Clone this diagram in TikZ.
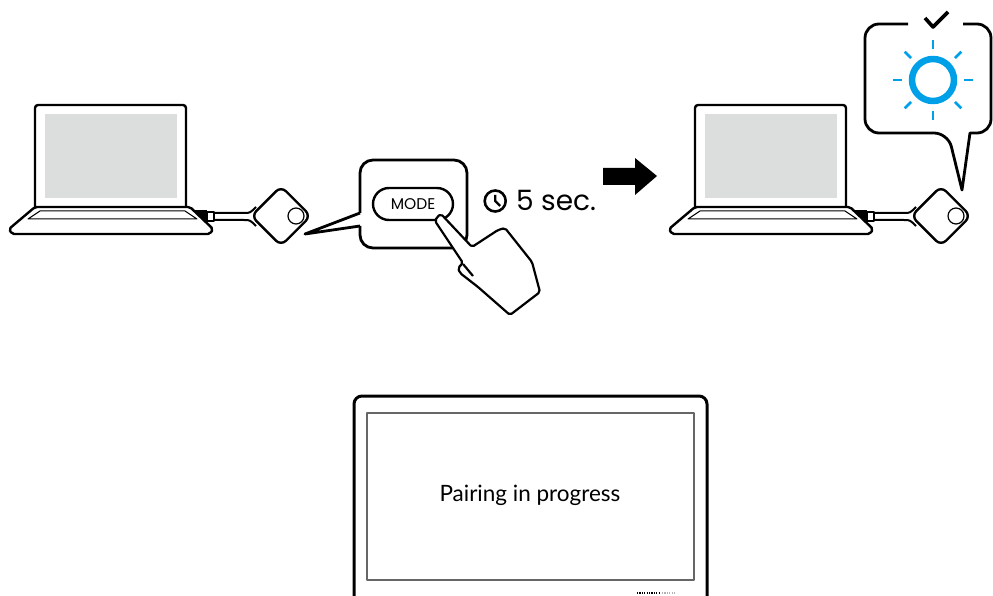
\documentclass[tikz,border=0pt]{standalone}
\usepackage{fontspec}
\setmainfont{Lato}
\newfontfamily\geofont{Poppins}
\usepackage{tikz}
\usetikzlibrary{positioning}
\usetikzlibrary{calc}
\definecolor{screengray}{HTML}{DCDDDD}
\definecolor{sunblue}{HTML}{00A0E9}

\begin{document}
\begin{tikzpicture}[x=1pt,y=-1pt,line join=round,
    outline/.style={line width=2.4pt},
    dongle/.style={draw,fill=white,line width=2.4pt,rotate=45,minimum size=42pt,
                   rounded corners=7pt,inner sep=0pt},
    button/.style={circle,draw,line width=1.2pt,minimum size=16pt,inner sep=0pt},
    ray/.style={sunblue,line width=2.6pt}]
\useasboundingbox (0,0) rectangle (993,596);

% the two laptops with their dongles
\foreach \dx/\nm in {0/a,660/b}{
  \begin{scope}[xshift=\dx]
    \fill[screengray] (45,114) rectangle (177,198);
    \draw[outline,rounded corners=3pt] (35,207) -- (35,105) -- (186,105) -- (186,207);
    % plug and cable
    \fill (192,210) rectangle (207,223);
    \draw[line width=1.6pt,fill=white] (207,212) rectangle (214,221);
    \draw[line width=2pt] (214,213) -- (244,213) .. controls (250,213) .. (256,207)
                          (214,220) -- (244,220) .. controls (250,220) .. (256,226);
    \node[dongle] (dongle\nm) at (281,216) {};
    \node[button] (button\nm) at (296,216) {};
    % base
    \draw[outline,fill=white,rounded corners=2pt] (35,207) -- (190,207) -- (213,229)
         -- (210,234) -- (12,234) -- (9,229) -- cycle;
    \draw[line width=1pt] (40,211) -- (185,211) -- (197,219) -- (28,219) -- cycle;
  \end{scope}
}

% callout with the MODE key
\draw[line width=2.8pt,rounded corners=13pt] (360,226) -- (360,248) -- (467,248)
     -- (467,160) -- (360,160) -- (360,213);
\draw[line width=2.8pt] (360,213) -- (305,234) -- (360,226);
\node[draw,line width=2.4pt,rounded corners=16pt,minimum width=80pt,minimum height=32pt,
      font=\geofont\fontsize{15.5}{15.5}\selectfont] (mode) at (413,204) {MODE};

% hand pressing the key
\draw[line width=2.2pt,fill=white,rounded corners=2pt] (437,217) -- (441,214) -- (472,247)
     -- (498,230) -- (505,228) -- (532,262) -- (540,292) -- (510,315) -- (478,287)
     -- (460,273) -- (458,268) -- (463,263) -- (435,221) -- cycle;
\draw[line width=2.2pt] (463,264) -- (473,276);

% hold time
\node[anchor=base west,font=\geofont\fontsize{28}{28}\selectfont,inner sep=0pt] (secs)
     at (516,211) {5 sec.};
\node[circle,draw,line width=2.6pt,minimum size=21pt,inner sep=0pt] (clock)
     [left=9pt of secs.west] {};
\draw[line width=2.4pt] ($(clock.center)+(0,-6)$) -- (clock.center) -- ++(5,5);

% step arrow
\fill (603,168) -- (635,168) -- (635,158) -- (657,176) -- (635,195) -- (635,185)
     -- (603,185) -- cycle;

% callout with the status light
\draw[line width=2.8pt,rounded corners=14pt] (908,24) -- (865,24) -- (865,133) -- (948,133)
     [sharp corners] -- (962,190) -- (970,133) [rounded corners=14pt] -- (991,133)
     -- (991,24) -- (963,24);
\draw[line width=3.6pt] (925,18) -- (933,27) -- (948,12);
\node[circle,draw=sunblue,line width=6.5pt,minimum size=42pt,inner sep=0pt] (light)
     at (933,80) {};
\foreach \a in {0,45,...,315}
  \draw[ray] (light.center) ++(\a:31) -- ++(\a:9);

% display
\draw[line width=3pt,rounded corners=8pt] (354,600) -- (354,396) -- (707,396) -- (707,600);
\draw[line width=1.3pt,black!60] (367,413) rectangle (694,580);
\node[font=\fontsize{22.5}{22.5}\selectfont] (pairing) at (530,495) {Pairing in progress};
\draw[line width=2pt,dash pattern=on 1.2pt off 1.2pt] (637,593) -- (660,593);
\draw[line width=2pt,black!30,dash pattern=on 1.2pt off 1.2pt] (662,593) -- (676,593);
\end{tikzpicture}
\end{document}
